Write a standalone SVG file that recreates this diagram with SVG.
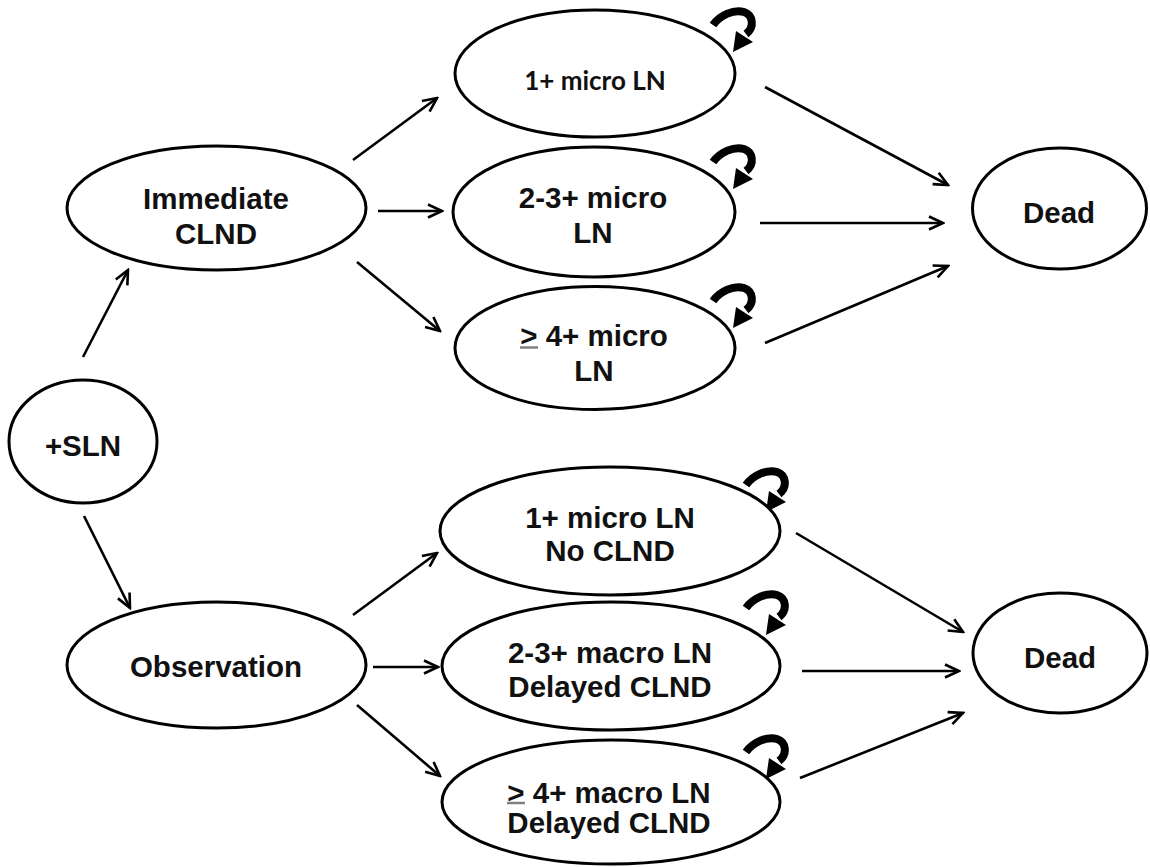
<svg xmlns="http://www.w3.org/2000/svg" xmlns:xlink="http://www.w3.org/1999/xlink" width="1150" height="867" viewBox="0 0 1150 867">
<style>
.node{fill:#fff;stroke:#000;stroke-width:3}
.t{font-family:"Liberation Sans",Arial,Helvetica,sans-serif;font-weight:bold;font-size:29.5px;fill:#111;text-anchor:middle}
.tc{font-family:Lato,"Open Sans",sans-serif;font-weight:bold;font-size:26px;fill:#111;text-anchor:middle}
.edge{fill:none;stroke:#000;stroke-width:2.6;marker-end:url(#ah)}
.ul{stroke:#808080;stroke-width:2.5}
</style>
<defs>
<marker id="ah" markerUnits="userSpaceOnUse" viewBox="0 0 18 16" markerWidth="18" markerHeight="16" refX="16" refY="8" orient="auto">
<path d="M2,1.5 L16,8 L2,14.5" fill="none" stroke="#000" stroke-width="2.6" stroke-linejoin="miter"/>
</marker>
<g id="curl">
<path d="M13,25 C20,15 34,9 44,12 C53,15 55,27 46,34" fill="none" stroke="#000" stroke-width="8"/>
<polygon points="36,31 53,42 33,52" fill="#000"/>
</g>
</defs>
<rect width="1150" height="867" fill="#fff"/>

<g id="connectors">
<line class="edge" x1="83" y1="357" x2="128" y2="270"/>
<line class="edge" x1="84" y1="516" x2="130" y2="608"/>
<line class="edge" x1="353" y1="160" x2="437" y2="98"/>
<line class="edge" x1="378" y1="211" x2="442" y2="211"/>
<line class="edge" x1="357" y1="262" x2="440" y2="331"/>
<line class="edge" x1="353" y1="615" x2="437" y2="553"/>
<line class="edge" x1="373" y1="667" x2="438" y2="667"/>
<line class="edge" x1="357" y1="705" x2="440" y2="776"/>
<line class="edge" x1="765" y1="87" x2="948" y2="185"/>
<line class="edge" x1="760" y1="223" x2="943" y2="223"/>
<line class="edge" x1="765" y1="343" x2="948" y2="266"/>
<line class="edge" x1="796" y1="533" x2="963" y2="632"/>
<line class="edge" x1="802" y1="671" x2="959" y2="671"/>
<line class="edge" x1="800" y1="778" x2="963" y2="713"/>
<use href="#curl" x="700" y="0"/>
<use href="#curl" x="700" y="137"/>
<use href="#curl" x="700" y="276"/>
<use href="#curl" x="733" y="460"/>
<use href="#curl" x="733" y="583"/>
<use href="#curl" x="733" y="727"/>
</g>

<g id="n-sln">
<ellipse class="node" cx="83" cy="441.5" rx="74" ry="61.5"/>
<text class="t" x="83" y="455.5">+SLN</text>
</g>
<g id="n-immediate">
<ellipse class="node" cx="216.5" cy="208" rx="149.5" ry="62"/>
<text class="t" x="216" y="209">Immediate</text>
<text class="t" x="216" y="244">CLND</text>
</g>
<g id="n-observation">
<ellipse class="node" cx="216.5" cy="665" rx="149.5" ry="63"/>
<text class="t" x="216" y="677">Observation</text>
</g>
<g id="n-micro1">
<ellipse class="node" cx="595" cy="73.5" rx="140" ry="63.5"/>
<text class="tc" x="595" y="89.5">1+ micro LN</text>
</g>
<g id="n-micro23">
<ellipse class="node" cx="594" cy="212" rx="141" ry="65"/>
<text class="t" x="593" y="207.5">2-3+ micro</text>
<text class="t" x="593" y="242.5">LN</text>
</g>
<g id="n-micro4">
<ellipse class="node" cx="595" cy="348" rx="140" ry="61.5"/>
<text class="t" x="594" y="345.5">&gt; 4+ micro</text>
<line class="ul" x1="520" y1="347.5" x2="538" y2="347.5"/>
<text class="t" x="594" y="380.5">LN</text>
</g>
<g id="n-dead1">
<ellipse class="node" cx="1059.5" cy="208.5" rx="87" ry="60.5"/>
<text class="t" x="1059" y="222.5">Dead</text>
</g>
<g id="n-micro1-nocl">
<ellipse class="node" cx="610" cy="531" rx="170" ry="64"/>
<text class="t" x="610" y="527.5">1+ micro LN</text>
<text class="t" x="610" y="560.5">No CLND</text>
</g>
<g id="n-macro23">
<ellipse class="node" cx="611" cy="666" rx="169" ry="64"/>
<text class="t" x="610" y="663">2-3+ macro LN</text>
<text class="t" x="610" y="697">Delayed CLND</text>
</g>
<g id="n-macro4">
<ellipse class="node" cx="611" cy="802" rx="169" ry="62"/>
<text class="t" x="609" y="802.5">&gt; 4+ macro LN</text>
<line class="ul" x1="507" y1="803" x2="525" y2="803"/>
<text class="t" x="609" y="833">Delayed CLND</text>
</g>
<g id="n-dead2">
<ellipse class="node" cx="1060" cy="653" rx="87" ry="60"/>
<text class="t" x="1060" y="667.5">Dead</text>
</g>
</svg>
